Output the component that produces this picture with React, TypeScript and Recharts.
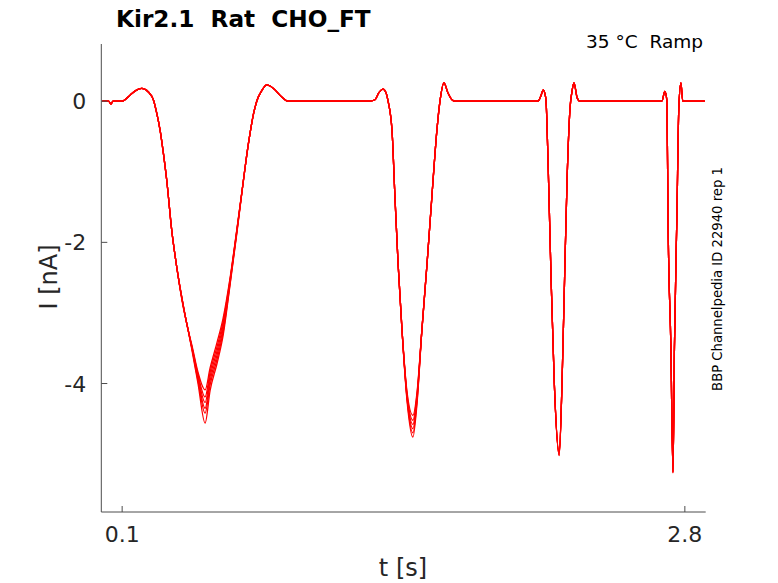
import { LineChart, Line, XAxis, YAxis } from "recharts";

// sample times (s) shared by all sweeps
const timeS = [
  0.005, 0.035, 0.047, 0.056, 0.098, 0.138, 0.165, 0.194, 0.226, 0.251,
  0.266, 0.282, 0.298, 0.314, 0.338, 0.362, 0.392, 0.415, 0.435, 0.464, 0.498,
  0.522, 0.555, 0.584, 0.618, 0.651, 0.682, 0.698, 0.714, 0.731, 0.747,
  0.77, 0.794, 0.826, 0.866, 0.898, 1.1, 1.289, 1.313, 1.332, 1.352,
  1.366, 1.376, 1.395, 1.409, 1.424, 1.443, 1.467, 1.495, 1.515, 1.538,
  1.563, 1.586, 1.61, 1.625, 1.644, 1.663, 1.683, 1.697, 1.9, 2.095,
  2.11, 2.12, 2.129, 2.134, 2.144, 2.158, 2.173, 2.197, 2.211, 2.223,
  2.235, 2.249, 2.259, 2.268, 2.283, 2.297, 2.5, 2.69, 2.704, 2.714,
  2.719, 2.733, 2.743, 2.75, 2.762, 2.771, 2.781, 2.79, 2.896,
];

// current (nA) common to every sweep
const baseNA = [
  0, 0, -0.04, 0, 0, 0.085, 0.15, 0.18, 0.13, 0.01,
  -0.17, -0.41, -0.74, -1.12, -1.83, -2.35, -2.88, -3.22, -3.5, -3.9, -4.3,
  -3.9, -3.55, -3.2, -2.55, -1.83, -1.12, -0.76, -0.45, -0.17, 0.01,
  0.15, 0.23, 0.18, 0.06, 0, 0, 0, 0.02, 0.12, 0.17,
  0.12, 0, -0.42, -1.36, -2.3, -3.25, -4.2, -4.6, -4.2, -3.25,
  -2.3, -1.36, -0.42, 0, 0.26, 0.12, 0.02, 0, 0, 0,
  0.08, 0.16, 0.1, 0, -0.9, -2.5, -3.95, -5.0, -3.95, -2.5,
  -1.1, -0.1, 0.15, 0.26, 0.05, 0, 0, 0, 0.14, 0,
  -1.6, -3.49, -5.25, -3.49, -1.6, -0.1, 0.26, 0, 0,
];

// where the sweeps separate (near the troughs)
const troughTimeS = [0.392, 0.435, 0.464, 0.498, 0.522, 0.555, 0.584, 0.618, 0.651, 1.467, 1.495, 1.515, 2.197, 2.743];
const sweep1NA = [-2.87, -3.46, -3.84, -4.09, -3.78, -3.42, -3.08, -2.5, -1.8, -4.12, -4.45, -4.12, -4.96, -5.22];
const sweep2NA = [-2.87, -3.48, -3.87, -4.19, -3.84, -3.48, -3.13, -2.52, -1.81, -4.15, -4.52, -4.15, -4.98, -5.24];
const sweep3NA = [-2.88, -3.49, -3.9, -4.27, -3.9, -3.54, -3.18, -2.54, -1.82, -4.18, -4.58, -4.18, -5.0, -5.25];
const sweep4NA = [-2.88, -3.5, -3.93, -4.35, -3.96, -3.6, -3.23, -2.56, -1.83, -4.2, -4.64, -4.22, -5.01, -5.26];
const sweep5NA = [-2.89, -3.51, -3.96, -4.42, -4.02, -3.66, -3.28, -2.58, -1.84, -4.22, -4.7, -4.25, -5.02, -5.26];
const sweep6NA = [-2.9, -3.53, -4.0, -4.56, -4.1, -3.72, -3.33, -2.6, -1.86, -4.25, -4.76, -4.28, -5.02, -5.27];

const sweeps = [sweep1NA, sweep2NA, sweep3NA, sweep4NA, sweep5NA, sweep6NA];
const xTicks = [0.1, 2.8];
const yTicks = [0, -2, -4];

const rows = timeS.map((t, i) => {
  const row: Record<string, number> = { t };
  const j = troughTimeS.indexOf(t);
  sweeps.forEach((sw, k) => {
    row[`s${k + 1}`] = j >= 0 ? sw[j] : baseNA[i];
  });
  return row;
});

const FONT = "'DejaVu Sans', sans-serif";
const INK = "#262626";
const AXIS = "#4d4d4d";

const XTick = ({ x, y, payload }: any) => (
  <g>
    <line x1={x} x2={x} y1={y} y2={y - 6} stroke={AXIS} strokeWidth={1} />
    <text x={x} y={y + 30} textAnchor="middle" fontSize={22} fill={INK} fontFamily={FONT}>
      {payload.value}
    </text>
  </g>
);

const YTick = ({ x, y, payload }: any) => (
  <g>
    <line x1={x} x2={x + 6} y1={y} y2={y} stroke={AXIS} strokeWidth={1} />
    <text x={x - 15} y={y + 8} textAnchor="end" fontSize={22} fill={INK} fontFamily={FONT}>
      {payload.value}
    </text>
  </g>
);

export default function App() {
  return (
    <div style={{ position: "absolute", left: 0, top: 0, width: 778, height: 583, background: "#fff", overflow: "hidden" }}>
      <LineChart width={778} height={583} data={rows} margin={{ top: 44, right: 72.3, bottom: 0, left: 0 }}>
        <XAxis
          dataKey="t"
          type="number"
          domain={[0, 2.9]}
          ticks={xTicks}
          allowDataOverflow
          height={71}
          tickSize={0}
          tickMargin={0}
          tickLine={false}
          axisLine={{ stroke: AXIS, strokeWidth: 1 }}
          tick={<XTick />}
        />
        <YAxis
          type="number"
          domain={[-5.82, 0.81]}
          ticks={yTicks}
          allowDataOverflow
          width={101.3}
          tickSize={0}
          tickMargin={0}
          tickLine={false}
          axisLine={{ stroke: AXIS, strokeWidth: 1 }}
          tick={<YTick />}
        />
        {sweeps.map((_, k) => (
          <Line
            key={k}
            dataKey={`s${k + 1}`}
            type="monotone"
            stroke="#ff0000"
            strokeWidth={1.3}
            dot={false}
            isAnimationActive={false}
          />
        ))}
      </LineChart>
      <svg width={778} height={583} style={{ position: "absolute", left: 0, top: 0, pointerEvents: "none" }}>
        <text x={116} y={27} fontSize={23.2} fontWeight="bold" fill="#000" fontFamily={FONT} xmlSpace="preserve">
          Kir2.1  Rat  CHO_FT
        </text>
        <text x={703} y={48} textAnchor="end" fontSize={18.5} fill="#000" fontFamily={FONT} xmlSpace="preserve">
          35 °C  Ramp
        </text>
        <text
          transform="translate(722,279) rotate(-90)"
          textAnchor="middle"
          fontSize={13.2}
          fill="#000"
          fontFamily={FONT}
        >
          BBP Channelpedia ID 22940 rep 1
        </text>
        <text x={403} y={576} textAnchor="middle" fontSize={24} fill={INK} fontFamily={FONT} xmlSpace="preserve">
          t [s]
        </text>
        <text
          transform="translate(57,277) rotate(-90)"
          textAnchor="middle"
          fontSize={24}
          fill={INK}
          fontFamily={FONT}
          xmlSpace="preserve"
        >
          I [nA]
        </text>
      </svg>
    </div>
  );
}
